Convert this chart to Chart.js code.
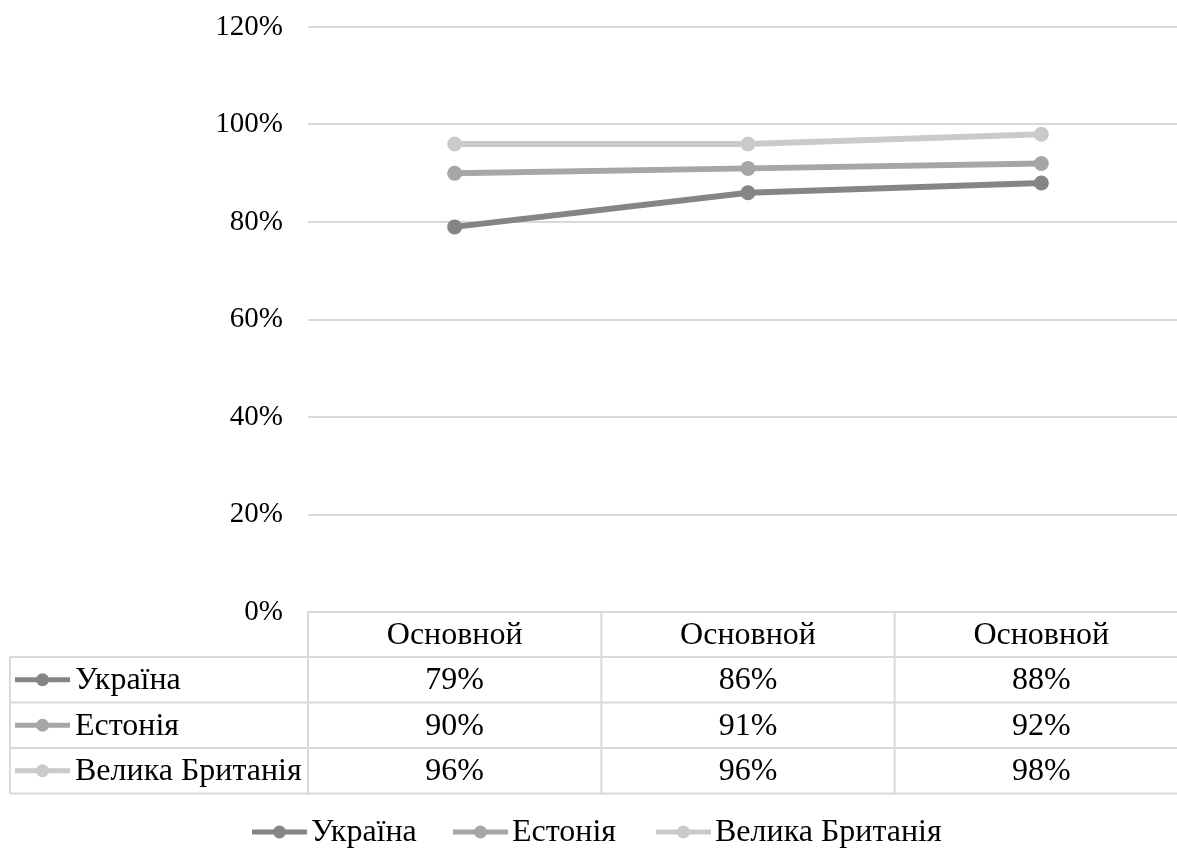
<!DOCTYPE html>
<html lang="uk">
<head>
    <meta charset="UTF-8">
    <title>chart</title>
    <script src="https://cdn.jsdelivr.net/npm/chart.js"></script>
    <style>
        html, body { margin: 0; padding: 0; background: #fff; overflow: hidden; }
    </style>
</head>
<body>
    <canvas id="canvas" width="1200" height="849"></canvas>
    <script>
        // data
        const categories = ['Основной', 'Основной', 'Основной'];
        const seriesNames = ['Україна', 'Естонія', 'Велика Британія'];
        const ukraine = [79, 86, 88];
        const estonia = [90, 91, 92];
        const britain = [96, 96, 98];
        const yTicks = [0, 20, 40, 60, 80, 100, 120];

        const colors = ['#858585', '#a6a6a6', '#cacaca'];
        const FONT = '"Liberation Serif", "Times New Roman", serif';
        const FS = 29;       // axis labels
        const TFS = 32;      // table + legend text
        const gridColor = '#d9d9d9';

        const seriesValues = [ukraine, estonia, britain];

        // draws the data table under the plot and the legend at the bottom
        const tablePlugin = {
            id: 'table',
            afterDraw(chart) {
                const ctx = chart.ctx;
                const x = chart.scales.x;
                const area = chart.chartArea;
                const colW = x.getPixelForValue(1) - x.getPixelForValue(0);
                const left = 10;
                const top = area.bottom;
                const headH = 45;
                const rowH = 45.5;
                const right = area.right;
                const bottom = top + headH + rowH * seriesNames.length;

                ctx.save();
                ctx.strokeStyle = gridColor;
                ctx.lineWidth = 2;
                // horizontal lines
                ctx.beginPath();
                ctx.moveTo(area.left, top); ctx.lineTo(right, top);
                for (let r = 0; r <= seriesNames.length; r++) {
                    const y = top + headH + rowH * r;
                    ctx.moveTo(left, y); ctx.lineTo(right, y);
                }
                // vertical lines
                ctx.moveTo(left, top + headH); ctx.lineTo(left, bottom);
                for (let c = 0; c <= categories.length; c++) {
                    const xx = area.left + colW * c;
                    ctx.moveTo(xx, top); ctx.lineTo(xx, bottom);
                }
                ctx.stroke();

                ctx.font = TFS + 'px ' + FONT;
                ctx.fillStyle = '#000';
                ctx.textBaseline = 'middle';
                ctx.textAlign = 'center';
                categories.forEach((c, i) => {
                    ctx.fillText(c, x.getPixelForValue(i), top + headH / 2 + 1);
                });
                seriesNames.forEach((name, r) => {
                    const cy = top + headH + rowH * r + rowH / 2 + 1;
                    ctx.textAlign = 'center';
                    seriesValues[r].forEach((v, i) => {
                        ctx.fillText(v + '%', x.getPixelForValue(i), cy);
                    });
                    drawKey(ctx, 15, 70, cy - 1, colors[r]);
                    ctx.fillStyle = '#000';
                    ctx.textAlign = 'left';
                    ctx.fillText(name, 75, cy);
                });

                // legend
                const legendX = [252, 453, 656];
                const ly = 832;
                seriesNames.forEach((name, r) => {
                    drawKey(ctx, legendX[r], legendX[r] + 55, ly, colors[r]);
                    ctx.fillStyle = '#000';
                    ctx.textAlign = 'left';
                    ctx.fillText(name, legendX[r] + 59, ly + 1);
                });
                ctx.restore();
            }
        };

        function drawKey(ctx, x1, x2, y, color) {
            ctx.save();
            ctx.strokeStyle = color;
            ctx.fillStyle = color;
            ctx.lineWidth = 5;
            ctx.beginPath();
            ctx.moveTo(x1, y); ctx.lineTo(x2, y);
            ctx.stroke();
            ctx.beginPath();
            ctx.arc((x1 + x2) / 2, y, 6.5, 0, Math.PI * 2);
            ctx.fill();
            ctx.restore();
        }

        const config = {
            type: 'line',
            data: {
                labels: categories,
                datasets: seriesNames.map((name, i) => ({
                    label: name,
                    data: seriesValues[i],
                    borderColor: colors[i],
                    backgroundColor: colors[i],
                    borderWidth: 6,
                    pointRadius: 7.5,
                    pointBorderWidth: 0,
                    tension: 0
                }))
            },
            options: {
                responsive: false,
                animation: false,
                layout: { padding: { top: 27, right: 12, bottom: 237, left: 0 } },
                plugins: {
                    legend: { display: false },
                    tooltip: { enabled: false }
                },
                scales: {
                    x: {
                        display: false,
                        offset: true
                    },
                    y: {
                        min: 0,
                        max: 120,
                        afterBuildTicks: s => { s.ticks = yTicks.map(v => ({ value: v })); },
                        afterFit: s => {
                            s.width = 308;
                            s.paddingTop = 0;
                            s.paddingBottom = 0;
                        },
                        border: { display: false },
                        grid: { color: gridColor, lineWidth: 2, drawTicks: false },
                        ticks: {
                            padding: 25,
                            color: '#000',
                            font: { family: FONT, size: FS },
                            callback: v => v + '%'
                        }
                    }
                }
            },
            plugins: [tablePlugin]
        };

        new Chart(document.getElementById('canvas').getContext('2d'), config);
    </script>
</body>
</html>
